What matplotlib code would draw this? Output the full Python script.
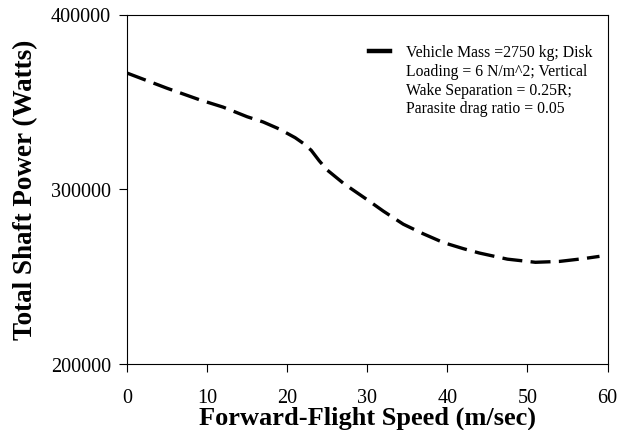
import matplotlib
matplotlib.use("Agg")
import matplotlib.pyplot as plt
from matplotlib.lines import Line2D

plt.rcParams['font.family'] = ['Liberation Serif', 'DejaVu Serif']

speed = [0, 5, 9, 12, 15, 17, 19, 21, 22, 23, 24, 25, 27, 28, 30, 32, 34.5,
         37, 39.5, 42, 44, 47.5, 51, 54, 57, 59]
power = [366500, 357800, 351300, 347000, 341500, 338500, 334500, 329500,
         326300, 322300, 316300, 311000, 303500, 300300, 294000, 287500,
         280000, 274500, 269500, 266000, 263500, 260000, 258200, 258700,
         260300, 261600]

legend_lines = ["Vehicle Mass =2750 kg; Disk",
                "Loading = 6 N/m^2; Vertical",
                "Wake Separation = 0.25R;",
                "Parasite drag ratio = 0.05"]

x_ticks = [0, 10, 20, 30, 40, 50, 60]
y_ticks = [200000, 300000, 400000]

fig = plt.figure(figsize=(6.28, 4.31), dpi=100)
ax = fig.add_axes([127/628, 1-365/431, (607.5-127)/628, 349.5/431])

line, = ax.plot(speed, power, color='black', lw=2.4, dashes=(6, 2.5),
                solid_capstyle='butt', dash_capstyle='butt')

ax.set_xlim(0, 60)
ax.set_ylim(200000, 400000)
ax.set_xticks(x_ticks)
ax.set_yticks(y_ticks)
ax.set_xticklabels([str(v) for v in x_ticks])
ax.set_yticklabels([str(v) for v in y_ticks])
ax.tick_params(axis='both', direction='out', length=5.5, width=0.8,
               labelsize=14.5, top=False, right=False)
ax.tick_params(axis='x', pad=11.5)
ax.tick_params(axis='y', pad=6)
for s in ax.spines.values():
    s.set_linewidth(0.8)

ax.set_xlabel("Forward-Flight Speed (m/sec)", fontsize=19, fontweight='bold',
              labelpad=-1)
ax.set_ylabel("Total Shaft Power (Watts)", fontsize=19.5, fontweight='bold',
              labelpad=9)

handles = [Line2D([], [], color='black', lw=3.2)] + \
          [Line2D([], [], color='none') for _ in legend_lines[1:]]
leg = ax.legend(handles, legend_lines, loc='upper left',
                bbox_to_anchor=(0.488, 0.937), frameon=False, fontsize=11.3,
                handlelength=1.3, handletextpad=1.05, labelspacing=0.17,
                borderpad=0)

fig.savefig("out.png", dpi=100)
